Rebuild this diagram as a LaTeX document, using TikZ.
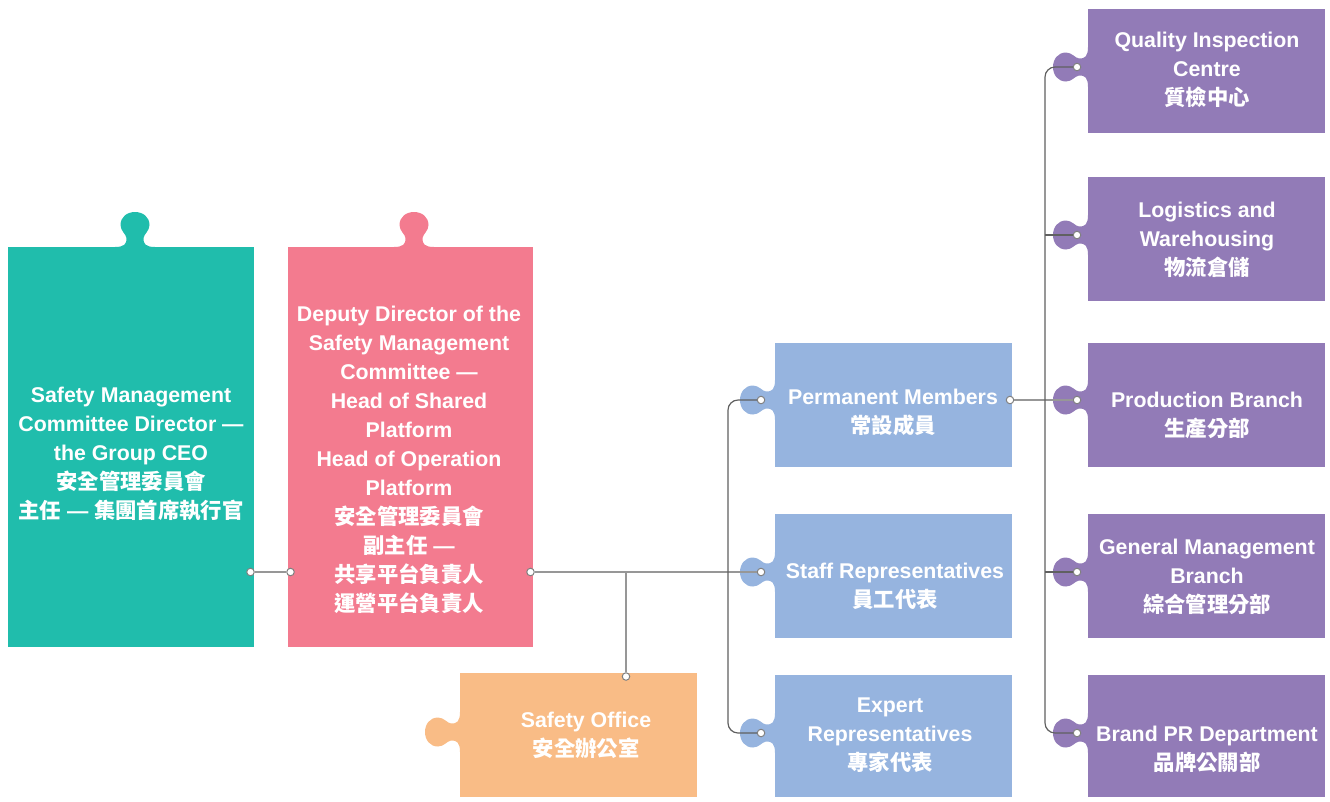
\documentclass[tikz,border=0pt]{standalone}
\usepackage{fontspec}
\setmainfont{Liberation Sans}
\newfontfamily\cjk{Noto Sans CJK TC}
\newcommand\zh[1]{{\cjk #1}}
\definecolor{cgreen}{HTML}{20BDAC}
\definecolor{cpink}{HTML}{F37B8F}
\definecolor{corange}{HTML}{F9BC86}
\definecolor{cblue}{HTML}{96B4DF}
\definecolor{cpurple}{HTML}{927BB7}
\definecolor{lgray}{HTML}{979797}
\definecolor{dgray}{HTML}{606060}
\tikzset{
  pics/ptab/.style={code={
    \fill[#1] (-20,3) -- (-20,0) .. controls (-11,0) and (-8,-3) .. (-8.5,-9)
      .. controls (-9,-13) and (-14.5,-16) .. (-14.5,-22)
      .. controls (-14.5,-30) and (-8,-35) .. (0,-35)
      .. controls (8,-35) and (14.5,-30) .. (14.5,-22)
      .. controls (14.5,-16) and (9,-13) .. (8.5,-9)
      .. controls (8,-3) and (11,0) .. (20,0) -- (20,3) -- cycle;
  }},
  card/.style n args={3}{draw=none, fill=#1, inner sep=0,
    minimum width=#2*0.75pt, minimum height=#3*0.75pt},
  txt/.style={text=white, font=\bfseries\fontsize{16}{21.75}\selectfont,
    align=center, inner sep=0},
  dot/.style={circle, draw=gray, fill=white, inner sep=0,
    minimum size=7.5*0.75pt, line width=0.75pt},
  lline/.style={draw=lgray, line width=1.1pt},
  dline/.style={draw=dgray, line width=0.9pt, rounded corners=7.5pt},
}
\begin{document}
\begin{tikzpicture}[x=0.75pt,y=-0.75pt]
\useasboundingbox (0,0) rectangle (1330,801);
% tabs
\pic at (135,247) {ptab=cgreen};
\pic at (414,247) {ptab=cpink};
\pic[rotate=90] at (460,732) {ptab=corange};
\pic[rotate=90] at (775,400) {ptab=cblue};
\pic[rotate=90] at (775,572) {ptab=cblue};
\pic[rotate=90] at (775,733) {ptab=cblue};
\pic[rotate=90] at (1088,67) {ptab=cpurple};
\pic[rotate=90] at (1088,235) {ptab=cpurple};
\pic[rotate=90] at (1088,400) {ptab=cpurple};
\pic[rotate=90] at (1088,572) {ptab=cpurple};
\pic[rotate=90] at (1088,733) {ptab=cpurple};
% boxes
\node[card={cgreen}{246}{400}] (bgreen) at (131,447) {};
\node[card={cpink}{245}{400}] (bpink) at (410.5,447) {};
\node[card={corange}{237}{124}] (borange) at (578.5,735) {};
\node[card={cblue}{237}{124}] (bperm) at (893.5,405) {};
\node[card={cblue}{237}{124}] (bstaff) at (893.5,576) {};
\node[card={cblue}{237}{122}] (bexp) at (893.5,736) {};
\node[card={cpurple}{237}{124}] (bq) at (1206.5,71) {};
\node[card={cpurple}{237}{124}] (bl) at (1206.5,239) {};
\node[card={cpurple}{237}{124}] (bp) at (1206.5,405) {};
\node[card={cpurple}{237}{124}] (bg) at (1206.5,576) {};
\node[card={cpurple}{237}{122}] (bb) at (1206.5,736) {};
% dots
\node[dot] (gd) at (250.5,572) {};
\node[dot] (pd1) at (290.5,572) {};
\node[dot] (pd2) at (530.5,572) {};
\node[dot] (od) at (626,676.5) {};
\node[dot] (pmd) at (761,400) {};
\node[dot] (sd) at (761,572) {};
\node[dot] (exd) at (761,733) {};
\node[dot] (prd) at (1010,400) {};
\node[dot] (pu1) at (1077,67) {};
\node[dot] (pu2) at (1077,235) {};
\node[dot] (pu3) at (1077,400) {};
\node[dot] (pu4) at (1077,572) {};
\node[dot] (pu5) at (1077,733) {};
\coordinate (jn) at (626,572);
\coordinate (bt1) at (728,400);
\coordinate (bt2) at (728,733);
\coordinate (tt1) at (1045,67);
\coordinate (tt2) at (1045,733);
\coordinate (tt3) at (1045,235);
\coordinate (tt4) at (1045,572);
% connectors
\draw[lline] (gd) -- (pd1);
\draw[lline] (pd2) -- (sd);
\draw[lline] (jn) -- (od);
\draw[lline] (prd) -- (pu3);
\draw[dline] (pmd) -- (bt1) -- (bt2) -- (exd);
\draw[dline] (pu1) -- (tt1) -- (tt2) -- (pu5);
\draw[dline] (tt3) -- (pu2);
\draw[dline] (tt4) -- (pu4);
% texts
\node[txt] (tgreen) at (131,454) {Safety Management\\Committee Director —\\the Group CEO\\\zh{安全管理委員會}\\\zh{主任} — \zh{集團首席執行官}};
\node[txt] (tpink) at (409,460) {Deputy Director of the\\Safety Management\\Committee —\\Head of Shared\\Platform\\Head of Operation\\Platform\\\zh{安全管理委員會}\\\zh{副主任} —\\\zh{共享平台負責人}\\\zh{運營平台負責人}};
\node[txt] (torange) at (586,735) {Safety Office\\\zh{安全辦公室}};
\node[txt] (tperm) at (893,412) {Permanent Members\\\zh{常設成員}};
\node[txt] (tstaff) at (895,586) {Staff Representatives\\\zh{員工代表}};
\node[txt] (texp) at (890,735) {Expert\\Representatives\\\zh{專家代表}};
\node[txt] (tq) at (1207,70) {Quality Inspection\\Centre\\\zh{質檢中心}};
\node[txt] (tl) at (1207,240) {Logistics and\\Warehousing\\\zh{物流倉儲}};
\node[txt] (tp) at (1207,415) {Production Branch\\\zh{生產分部}};
\node[txt] (tg) at (1207,577) {General Management\\Branch\\\zh{綜合管理分部}};
\node[txt] (tb) at (1207,749) {Brand PR Department\\\zh{品牌公關部}};
\end{tikzpicture}
\end{document}
